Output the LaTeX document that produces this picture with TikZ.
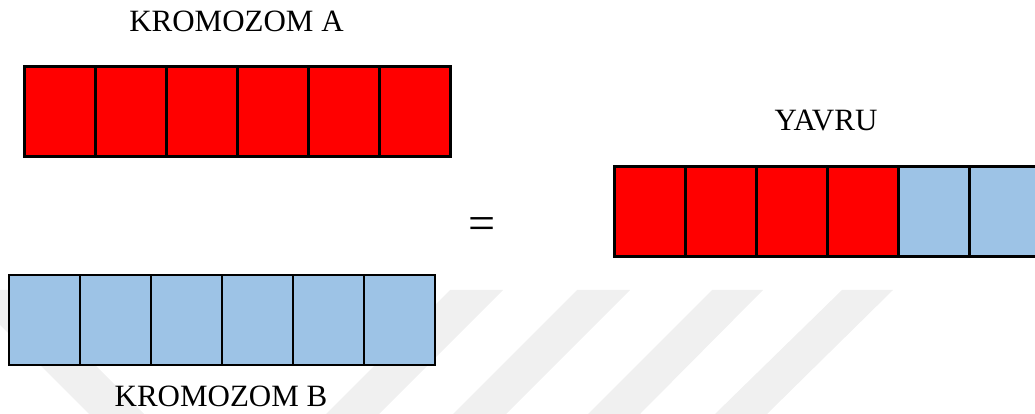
\documentclass[tikz,border=0pt]{standalone}
\usepackage{fontspec}
\setmainfont{Liberation Serif}
\definecolor{genred}{HTML}{FF0000}
\definecolor{genblue}{HTML}{9DC3E6}
\definecolor{wmark}{HTML}{F0F0F0}
\tikzset{
  gene/.style={rectangle, draw=black, inner sep=0pt, minimum width=71pt, minimum height=90pt, anchor=south west},
  redgene/.style={gene, fill=genred, line width=2.6pt},
  bluegene/.style={gene, fill=genblue, line width=1.6pt},
  label/.style={font=\fontsize{31}{31}\selectfont, inner sep=0pt, anchor=base},
  stripe/.style={fill=wmark, draw=none}
}
\begin{document}
\begin{tikzpicture}[x=1pt,y=1pt]
\useasboundingbox (0,0) rectangle (1035,414);
% watermark stripes
\fill[stripe] (-35,124) -- (20,124) -- (144,0) -- (89,0) -- cycle;
\fill[stripe] (450,124) -- (503,124) -- (379,0) -- (326,0) -- cycle;
\fill[stripe] (577,124) -- (630,124) -- (506,0) -- (453,0) -- cycle;
\fill[stripe] (712,124) -- (763,124) -- (640,0) -- (588,0) -- cycle;
\fill[stripe] (842,124) -- (893,124) -- (767,0) -- (715,0) -- cycle;
% labels
\node[label] (la) at (236.5,382) {KROMOZOM A};
\node[label] (lb) at (221,7) {KROMOZOM B};
\node[label] (lc) at (826,283) {YAVRU};
\node[font=\fontsize{48}{48}\selectfont, inner sep=0pt, anchor=base] (eq) at (482,174) {=};
% chromosome A
\foreach \i in {1,...,6}{
  \node[redgene] (a\i) at ({23+71*(\i-1)},256) {};
}
% chromosome B
\foreach \i in {1,...,6}{
  \node[bluegene] (b\i) at ({8+71*(\i-1)},48) {};
}
% offspring
\foreach \i in {1,...,4}{
  \node[redgene] (c\i) at ({613+71*(\i-1)},156) {};
}
\foreach \i in {5,6}{
  \node[gene, fill=genblue, line width=2.6pt] (c\i) at ({613+71*(\i-1)},156) {};
}
\end{tikzpicture}
\end{document}
